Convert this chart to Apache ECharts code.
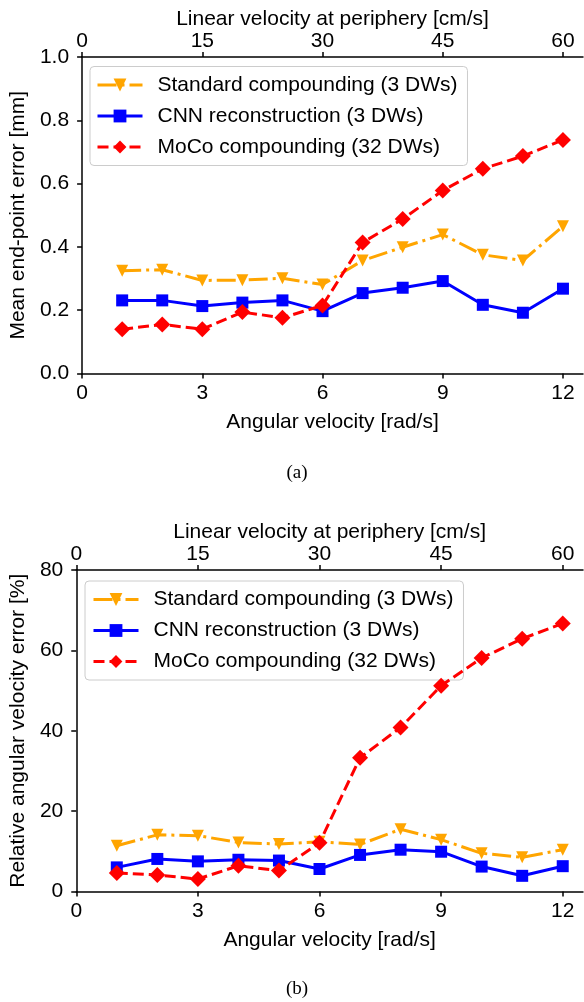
<!DOCTYPE html>
<html><head><meta charset="utf-8">
<script src="https://cdn.jsdelivr.net/npm/echarts@6/dist/echarts.min.js"></script>
<style>html,body{margin:0;padding:0;background:#fff}#c{width:584px;height:1002px}</style>
</head><body><div id="c"></div><script>
// ---- data ----
const angularVelocity = [1, 2, 3, 4, 5, 6, 7, 8, 9, 10, 11, 12];
const seriesNames = ['Standard compounding (3 DWs)', 'CNN reconstruction (3 DWs)', 'MoCo compounding (32 DWs)'];
// (a) mean end-point error [mm]
const epeStandard = [0.325, 0.328, 0.294, 0.295, 0.301, 0.281, 0.357, 0.399, 0.439, 0.375, 0.357, 0.465];
const epeCNN      = [0.231, 0.231, 0.213, 0.224, 0.231, 0.197, 0.254, 0.271, 0.292, 0.217, 0.192, 0.268];
const epeMoCo     = [0.140, 0.155, 0.140, 0.194, 0.176, 0.215, 0.414, 0.488, 0.578, 0.647, 0.687, 0.738];
// (b) relative angular velocity error [%]
const avStandard = [11.4, 14.1, 13.9, 12.2, 11.8, 12.4, 11.7, 15.5, 12.9, 9.5, 8.5, 10.4];
const avCNN      = [6.0, 8.1, 7.5, 7.9, 7.7, 5.6, 9.1, 10.4, 9.9, 6.2, 3.9, 6.3];
const avMoCo     = [4.6, 4.1, 3.1, 6.4, 5.2, 12.1, 33.3, 40.8, 51.2, 58.1, 62.9, 66.7];
// tick values
const angularTicks = [0, 3, 6, 9, 12];
const linearTicks = [0, 15, 30, 45, 60];

// ---- styling ----
const FONT = '"Liberation Sans", Arial, sans-serif';
const FS = 21;
const styles = [
  { color: '#FFA500', symbol: 'triangle', symbolRotate: 180, symbolSize: [12, 12], type: [19, 5, 3, 5] },
  { color: '#0000FF', symbol: 'rect', symbolRotate: 0, symbolSize: 12, type: 'solid' },
  { color: '#FF0000', symbol: 'diamond', symbolRotate: 0, symbolSize: 16, type: [11, 5] }
];

function mk(name, idx, axisIdx, values) {
  const s = styles[idx];
  return {
    name: name, type: 'line', xAxisIndex: axisIdx * 2, yAxisIndex: axisIdx,
    data: angularVelocity.map((x, i) => [x, values[i]]),
    symbol: s.symbol, symbolRotate: s.symbolRotate, symbolSize: s.symbolSize,
    showAllSymbol: true,
    lineStyle: { color: s.color, width: 3, type: s.type, cap: 'butt' },
    itemStyle: { color: s.color, borderWidth: 0 },
    emphasis: { disabled: true },
    z: 2 + idx
  };
}

const axisLineStyle = { show: true, lineStyle: { color: '#000', width: 1.5 } };
const tickStyle = { show: true, length: 5, inside: false, lineStyle: { color: '#000', width: 1.5 } };
const lblStyle = { color: '#000', fontSize: FS, fontFamily: FONT };

function bottomX(gridIndex) {
  return {
    type: 'value', gridIndex: gridIndex, position: 'bottom', min: 0, max: 12.5,
    name: 'Angular velocity [rad/s]', nameLocation: 'middle', nameGap: 38,
    nameTextStyle: lblStyle,
    axisLine: axisLineStyle, splitLine: { show: false },
    axisTick: Object.assign({}, tickStyle, { customValues: angularTicks }),
    axisLabel: Object.assign({}, lblStyle, { margin: 9.5, customValues: angularTicks })
  };
}
function topX(gridIndex) {
  return {
    type: 'value', gridIndex: gridIndex, position: 'top', min: 0, max: 62.5,
    name: 'Linear velocity at periphery [cm/s]', nameLocation: 'middle', nameGap: 25,
    nameTextStyle: lblStyle,
    axisLine: axisLineStyle, splitLine: { show: false },
    axisTick: Object.assign({}, tickStyle, { customValues: linearTicks }),
    axisLabel: Object.assign({}, lblStyle, { margin: 5.5, customValues: linearTicks })
  };
}

function legendFor(left, top, padLeft) {
  return {
    data: seriesNames, orient: 'vertical', left: left, top: top,
    padding: [8, 10, 8, padLeft],
    itemWidth: 45, itemHeight: 16, itemGap: 10,
    lineStyle: { width: 3 },
    backgroundColor: 'rgba(255,255,255,0.8)', borderColor: '#cccccc', borderWidth: 1, borderRadius: 4,
    textStyle: { color: '#000', fontSize: FS, fontFamily: FONT, lineHeight: 21, padding: [0, 0, 0, 10] },
    selectedMode: false
  };
}

const chart = echarts.init(document.getElementById('c'), null, { renderer: 'canvas' });
chart.setOption({
  animation: false,
  backgroundColor: '#fff',
  grid: [
    { left: 78.5, right: 1, top: 57, height: 316.5 },
    { left: 73.5, right: 1, top: 570, height: 321.5 }
  ],
  xAxis: [bottomX(0), topX(0), bottomX(1), topX(1)],
  yAxis: [
    {
      type: 'value', gridIndex: 0, min: 0, max: 1, interval: 0.2,
      name: 'Mean end-point error [mm]', nameLocation: 'middle', nameGap: 50, nameRotate: 90,
      nameTextStyle: lblStyle,
      axisLine: axisLineStyle, axisTick: tickStyle, splitLine: { show: false },
      axisLabel: Object.assign({}, lblStyle, { margin: 13, formatter: v => v.toFixed(1) })
    },
    {
      type: 'value', gridIndex: 1, min: 0, max: 80, interval: 20,
      name: 'Relative angular velocity error [%]', nameLocation: 'middle', nameGap: 45, nameRotate: 90,
      nameTextStyle: lblStyle,
      axisLine: axisLineStyle, axisTick: tickStyle, splitLine: { show: false },
      axisLabel: Object.assign({}, lblStyle, { margin: 13 })
    }
  ],
  legend: [legendFor(90, 66.5, 6), legendFor(85, 581, 7)],
  series: [
    mk(seriesNames[0], 0, 0, epeStandard),
    mk(seriesNames[1], 1, 0, epeCNN),
    mk(seriesNames[2], 2, 0, epeMoCo),
    mk(seriesNames[0], 0, 1, avStandard),
    mk(seriesNames[1], 1, 1, avCNN),
    mk(seriesNames[2], 2, 1, avMoCo)
  ],
  graphic: [
    { type: 'text', x: 297, y: 473, style: { text: '(a)', font: '19px "Liberation Serif", "Times New Roman", serif', fill: '#000', align: 'center', verticalAlign: 'middle' } },
    { type: 'text', x: 297, y: 989, style: { text: '(b)', font: '19px "Liberation Serif", "Times New Roman", serif', fill: '#000', align: 'center', verticalAlign: 'middle' } }
  ]
});
</script></body></html>
